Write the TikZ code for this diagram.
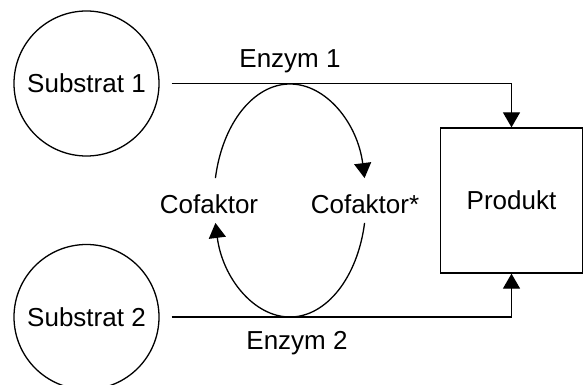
\documentclass[tikz,border=0pt]{standalone}
\usepackage{fontspec}
\setmainfont{Liberation Sans}
\usetikzlibrary{arrows.meta,calc}
\begin{document}
\begin{tikzpicture}[x=1pt,y=-1pt, line width=1.3pt,
  every node/.style={font=\fontsize{26}{31}\selectfont},
  circ/.style={draw, circle, minimum size=145pt, inner sep=0pt},
  prodbox/.style={draw, rectangle, minimum width=142pt, minimum height=145pt, inner sep=0pt},
  lbl/.style={inner sep=0pt},
  arr/.style={-{Triangle[length=15pt,width=17pt]}}]
\clip (0,0) rectangle (583,385);
\useasboundingbox (0,0) rectangle (583,385);
\node[circ] (s1) at (86.5,83.5) {Substrat 1};
\node[circ] (s2) at (86.5,317) {Substrat 2};
\node[prodbox] (prod) at (511.5,200.5) {Produkt};
\node[lbl] (e1) at (290,61) {Enzym 1};
\node[lbl] (e2) at (297,343) {Enzym 2};
\node[lbl] (cf) at (209,204) {Cofaktor};
\node[lbl] (cfs) at (365,204) {Cofaktor*};
\coordinate (c) at (290,200.5);
\draw[arr] ($(s1.east)+(12,0)$) -| (prod.north);
\draw[arr] ($(s2.east)+(12,0)$) -| (prod.south);
\draw (c) ++(270:76 and 116.5) arc[start angle=270, end angle=191.1, x radius=76, y radius=116.5];
\draw[arr] (c) ++(90:76 and 116.5) arc[start angle=90, end angle=168.9, x radius=76, y radius=116.5];
\draw[arr] (c) ++(270:76 and 116.5) arc[start angle=270, end angle=348.9, x radius=76, y radius=116.5];
\draw (c) ++(11.1:76 and 116.5) arc[start angle=11.1, end angle=90, x radius=76, y radius=116.5];
\end{tikzpicture}
\end{document}
